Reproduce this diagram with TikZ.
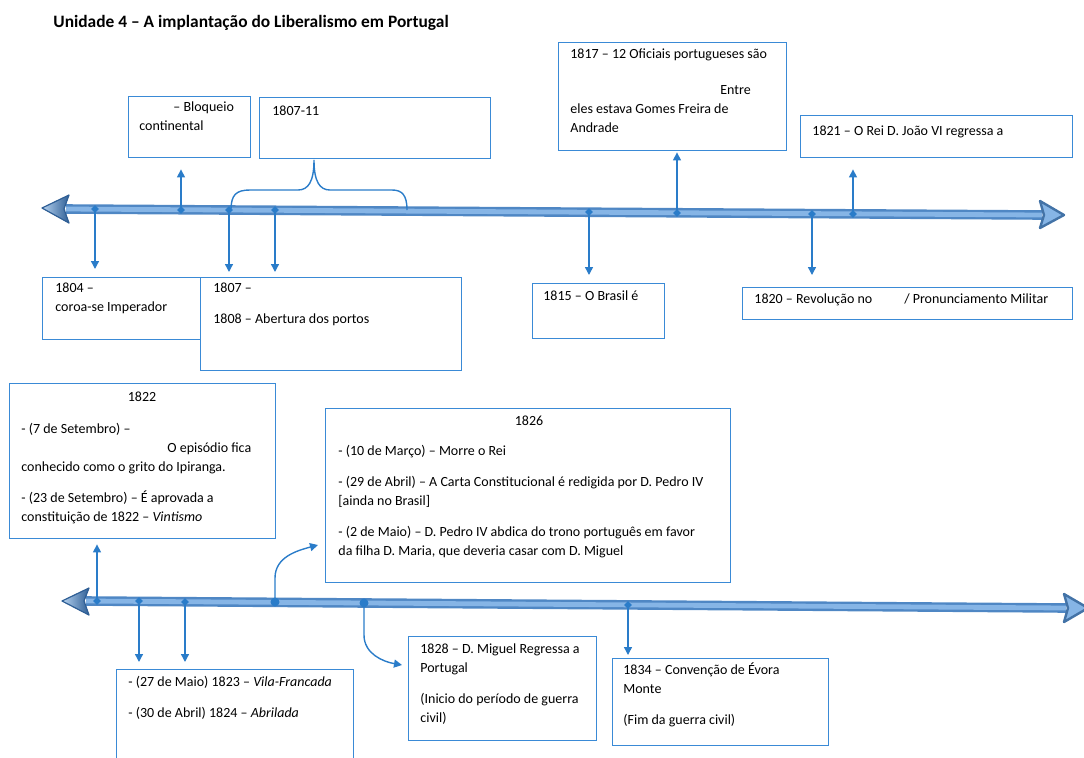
\documentclass[tikz,border=0pt]{standalone}
\usepackage{fontspec}
\setmainfont{Carlito}
\usetikzlibrary{arrows.meta,shapes.geometric,positioning}
\definecolor{boxblue}{HTML}{3A8AD6}
\definecolor{linkblue}{HTML}{2A7CC9}
\definecolor{tledge}{HTML}{4F87C4}
\definecolor{tlfill}{HTML}{86B5E6}
\definecolor{tldark}{HTML}{2F5F96}

\begin{document}
\begin{tikzpicture}[x=0.5pt,y=0.5pt]
\tikzstyle{every node}+=[inner sep=0pt]
\tikzstyle{box}=[draw=boxblue,line width=0.7pt,fill=white,anchor=north west]
\tikzstyle{txt}=[anchor=north west,align=left,font=\fontsize{7}{9.5}\selectfont,execute at begin node={\rule{0pt}{5.5pt}}]
\tikzstyle{dot}=[diamond,fill=linkblue,minimum size=4pt]
\tikzstyle{bigdot}=[circle,fill=linkblue,minimum size=4.5pt]
\tikzstyle{conn}=[linkblue,line width=0.7pt,-{Triangle[width=4pt,length=4pt]}]
\tikzstyle{tlleft}=[left color=tlfill!60!white,right color=tldark,draw=tldark,line width=0.6pt,line join=round]
\tikzstyle{tlright}=[fill=tlfill,draw=tledge!85!black,line width=1.2pt,line join=round]
\useasboundingbox (0,0) rectangle (1084,-757);
\node[anchor=base west,font=\fontsize{8.7}{10}\selectfont\bfseries] (title) at (53,-27) {Unidade 4 – A implantação do Liberalismo em Portugal};
% first timeline
\coordinate (tlA) at (66,-209);
\coordinate (tlB) at (1042,-215);
\draw [tledge,line width=4.8pt] (tlA) -- (tlB);
\draw [tlfill,line width=2.4pt] (tlA) -- (tlB);
\filldraw [tlleft] (42,-208) -- (69,-195) -- (64,-209) -- (69,-223) -- cycle;
\filldraw [tlright] (1064,-215) -- (1040,-201) -- (1044,-215) -- (1040,-228) -- cycle;
\node[dot] (d1804) at (95,-209) {};
\node[dot] (d1806) at (181,-210) {};
\node[dot] (d1807) at (229,-210) {};
\node[dot] (d1808) at (275,-210) {};
\node[dot] (d1815) at (589,-212) {};
\node[dot] (d1817) at (677,-213) {};
\node[dot] (d1820) at (812,-214) {};
\node[dot] (d1821) at (853,-214) {};
\node[box,minimum width=61pt,minimum height=30.5pt] (bBloq) at (128,-96) {};
\node[box,minimum width=115.5pt,minimum height=30.5pt] (b1807a) at (259,-97) {};
\node[box,minimum width=114pt,minimum height=54pt] (b1817) at (558,-42) {};
\node[box,minimum width=136pt,minimum height=21pt] (b1821) at (800,-115) {};
\node[box,minimum width=85pt,minimum height=31pt] (b1804) at (42,-277) {};
\node[box,minimum width=130.5pt,minimum height=46.5pt] (b1807) at (200,-277) {};
\node[box,minimum width=66pt,minimum height=27.5pt] (b1815) at (532,-283) {};
\node[box,minimum width=165pt,minimum height=16pt] (b1820) at (742,-287) {};
\node[txt] (tBloq) at (139,-101) {\hspace*{17pt}– Bloqueio\\continental};
\node[txt] (t1807a) at (272,-104) {1807-11};
\node[txt] (t1817) at (570,-48) {1817 – 12 Oficiais portugueses são\\[8.5pt]\hspace*{75pt}Entre\\eles estava Gomes Freira de\\Andrade};
\node[txt] (t1821) at (812,-124) {1821 – O Rei D. João VI regressa a};
\node[txt] (t1804) at (55,-283) {1804 –\\coroa-se Imperador};
\node[txt] (t1807) at (213,-283) {1807 –\\[6pt]1808 – Abertura dos portos};
\node[txt] (t1815) at (543,-289) {1815 – O Brasil é};
\node[txt] (t1820) at (754,-292) {1820 – Revolução no\hspace{16pt}/ Pronunciamento Militar};
\draw [conn,shorten >=4pt] (d1804.center) -- (d1804 |- b1804.north);
\draw [conn,shorten >=5.5pt] (d1806.center) -- (d1806 |- bBloq.south);
\draw [conn,shorten >=2.5pt] (d1807.center) -- (d1807 |- b1807.north);
\draw [conn,shorten >=2.5pt] (d1808.center) -- (d1808 |- b1807.north);
\draw [conn,shorten >=4pt] (d1815.center) -- (d1815 |- b1815.north);
\draw [conn,shorten >=0.5pt] (d1817.center) -- (d1817 |- b1817.south);
\draw [conn,shorten >=6pt] (d1820.center) -- (d1820 |- b1820.north);
\draw [conn,shorten >=5.5pt] (d1821.center) -- (d1821 |- b1821.south);
\draw [linkblue,line width=0.7pt] (231,-210) .. controls (231,-195) and (236,-190) .. (250,-190) -- (298,-190) .. controls (308,-190) and (314,-182) .. (314,-160) .. controls (314,-182) and (320,-190) .. (330,-190) -- (392,-190) .. controls (402,-190) and (407,-195) .. (407,-210);
% second timeline
\coordinate (tlC) at (86,-601);
\coordinate (tlD) at (1066,-608);
\draw [tledge,line width=4.8pt] (tlC) -- (tlD);
\draw [tlfill,line width=2.4pt] (tlC) -- (tlD);
\filldraw [tlleft] (62,-601) -- (89,-588) -- (84,-601) -- (89,-615) -- cycle;
\filldraw [tlright] (1088,-608) -- (1064,-594) -- (1068,-608) -- (1064,-622) -- cycle;
\node[dot] (d1822) at (97,-601) {};
\node[dot] (d1823) at (139,-601) {};
\node[dot] (d1824) at (185,-602) {};
\node[bigdot] (d1826) at (275,-602) {};
\node[bigdot] (d1828) at (364,-603) {};
\node[dot] (d1834) at (628,-605) {};
\node[box,minimum width=133pt,minimum height=77.5pt] (b1822) at (9,-383) {};
\node[box,minimum width=202.5pt,minimum height=87pt] (b1826) at (325,-408) {};
\node[box,minimum width=118.5pt,minimum height=50pt] (b1823) at (116,-669) {};
\node[box,minimum width=94pt,minimum height=52pt] (b1828) at (408,-636) {};
\node[box,minimum width=108pt,minimum height=43.5pt] (b1834) at (612,-658) {};
\node[txt,anchor=north] (h1822) at (142,-390) {1822};
\node[txt] (t1822) at (21,-423) {- (7 de Setembro) –\\\hspace*{73pt}O episódio fica\\conhecido como o grito do Ipiranga.\\[6pt]- (23 de Setembro) – É aprovada a\\constituição de 1822 – \textit{Vintismo}};
\node[txt,anchor=north] (h1826) at (529,-414) {1826};
\node[txt] (t1826) at (338,-445) {- (10 de Março) – Morre o Rei\\[6pt]- (29 de Abril) – A Carta Constitucional é redigida por D. Pedro IV\\{[}ainda no Brasil{]}\\[6pt]- (2 de Maio) – D. Pedro IV abdica do trono português em favor\\da filha D. Maria, que deveria casar com D. Miguel};
\node[txt] (t1823) at (128,-676) {- (27 de Maio) 1823 – \textit{Vila-Francada}\\[6pt]- (30 de Abril) 1824 – \textit{Abrilada}};
\node[txt] (t1828) at (420,-643) {1828 – D. Miguel Regressa a\\Portugal\\[6pt](Inicio do período de guerra\\civil)};
\node[txt] (t1834) at (623,-662) {1834 – Convenção de Évora\\Monte\\[6pt](Fim da guerra civil)};
\coordinate (e1826) at (318,-545);
\coordinate (e1828) at (402,-665);
\draw [conn,shorten >=2.5pt] (d1822.center) -- (d1822 |- b1822.south);
\draw [conn,shorten >=3.5pt] (d1823.center) -- (d1823 |- b1823.north);
\draw [conn,shorten >=3.5pt] (d1824.center) -- (d1824 |- b1823.north);
\draw [conn] (d1826.center) -- ++(0,24) to[out=90,in=195] (e1826);
\draw [conn] (d1828.center) -- ++(0,-32) to[out=-90,in=170] (e1828);
\draw [conn,shorten >=1.5pt] (d1834.center) -- (d1834 |- b1834.north);
\end{tikzpicture}
\end{document}
